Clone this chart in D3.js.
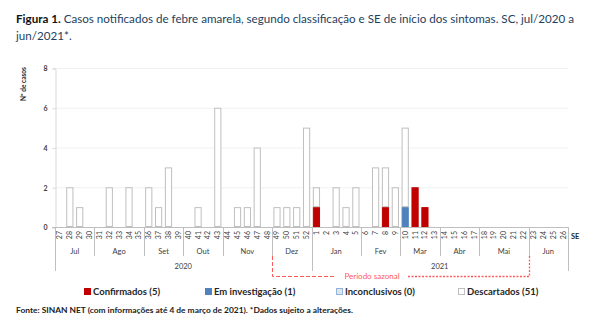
<!DOCTYPE html>
<html><head><meta charset="utf-8">
<script src="https://cdn.jsdelivr.net/npm/d3@7"></script>
<style>body{margin:0;background:#fff}svg{display:block;font-family:Lato,"Open Sans",sans-serif}</style>
</head><body><svg id="c" width="593" height="326"></svg>
<script>
const weeks = ["27","28","29","30","31","32","33","34","35","36","37","38","39","40","41","42","43","44","45","46","47","48","49","50","51","52","1","2","3","4","5","6","7","8","9","10","11","12","13","14","15","16","17","18","19","20","21","22","23","24","25","26"];
const confirmados = [0,0,0,0,0,0,0,0,0,0,0,0,0,0,0,0,0,0,0,0,0,0,0,0,0,0,1,0,0,0,0,0,0,1,0,0,2,1,0,0,0,0,0,0,0,0,0,0,0,0,0,0];
const investigacao = [0,0,0,0,0,0,0,0,0,0,0,0,0,0,0,0,0,0,0,0,0,0,0,0,0,0,0,0,0,0,0,0,0,0,0,1,0,0,0,0,0,0,0,0,0,0,0,0,0,0,0,0];
const inconclusivos = [0,0,0,0,0,0,0,0,0,0,0,0,0,0,0,0,0,0,0,0,0,0,0,0,0,0,0,0,0,0,0,0,0,0,0,0,0,0,0,0,0,0,0,0,0,0,0,0,0,0,0,0];
const descartados = [0,2,1,0,0,2,0,2,0,2,1,3,0,0,1,0,6,0,1,1,4,0,1,1,1,5,1,0,2,1,2,0,3,2,2,4,0,0,0,0,0,0,0,0,0,0,0,0,0,0,0,0];
const months = [["Jul","27","30"],["Ago","31","35"],["Set","36","39"],["Out","40","43"],["Nov","44","48"],["Dez","49","52"],["Jan","1","5"],["Fev","6","9"],["Mar","10","13"],["Abr","14","17"],["Mai","18","22"],["Jun","23","26"]];
const years = [["2020","27","52"],["2021","1","26"]];
const yTicks = [0,2,4,6,8];
const seriesNames = ["Confirmados (5)","Em investigação (1)","Inconclusivos (0)","Descartados (51)"];
const seriesColors = ["#C00000","#4F81BD","#DCE6F2","#FFFFFF"];
const seriesStroke = ["#C00000","#4F81BD","#95B3D7","#BFBFBF"];

(function(){
const svg = d3.select("#c");
const L=55, R=568, T=68, B=227;
const x = d3.scaleBand().domain(weeks).range([L,R]).paddingInner(0.27).paddingOuter(0.14);
const y = d3.scaleLinear().domain([0,8]).range([B,T]);
const cw = (R-L)/weeks.length;
const bx0 = w => L + weeks.indexOf(w)*cw;

function fitText(sel, w){ const n=sel.node(); const l=n.getComputedTextLength(); if(l>0) sel.attr("textLength",w).attr("lengthAdjust","spacingAndGlyphs"); return l; }

// title
const t = svg.append("text").attr("x",16).attr("y",23).attr("font-size",12).attr("fill","#243F60");
t.append("tspan").attr("font-weight","bold").attr("fill","#111").text("Figura 1.");
t.append("tspan").text(" Casos notificados de febre amarela, segundo classificação e SE de início dos sintomas. SC, jul/2020 a");
const t2 = svg.append("text").attr("x",16).attr("y",40).attr("font-size",12).attr("fill","#243F60").text("jun/2021*.");
const l1 = t.node().getComputedTextLength();
const l2 = t2.node().getComputedTextLength();
const r = 558/l1;
fitText(t, 558); fitText(t2, l2*r);

// gridlines
svg.append("g").selectAll("line").data(yTicks.filter(d=>d>0)).join("line")
  .attr("x1",L).attr("x2",R).attr("y1",d=>y(d)+0.5).attr("y2",d=>y(d)+0.5)
  .attr("stroke","#F0F0F0").attr("stroke-width",1);

// y axis
const ya = svg.append("g").attr("transform",`translate(${L+0.5},0.5)`)
  .call(d3.axisLeft(y).tickValues(yTicks).tickSize(3).tickPadding(5));
ya.select(".domain").attr("stroke","#D9D9D9");
ya.selectAll(".tick line").attr("stroke","#D9D9D9");
ya.selectAll("text").attr("font-size",7).attr("font-weight","bold").attr("fill","#404040").attr("font-family","Lato");
svg.append("text").attr("transform","translate(26,84) rotate(-90)").attr("text-anchor","middle")
  .attr("font-size",6.5).attr("font-weight","bold").attr("fill","#262626").text("Nº de casos");

// stacked bars
const rows = weeks.map((w,i)=>({w, c:confirmados[i], e:investigacao[i], n:inconclusivos[i], d:descartados[i]}));
const stack = d3.stack().keys(["c","e","n","d"])(rows);
stack.forEach((layer,k)=>{
  svg.append("g").selectAll("rect").data(layer.filter(s=>s[1]>s[0])).join("rect")
    .attr("x",s=>x(s.data.w)+0.5).attr("width",x.bandwidth()-1)
    .attr("y",s=>y(s[1])+0.5).attr("height",s=>y(s[0])-y(s[1])-1)
    .attr("fill",seriesColors[k]).attr("stroke",seriesStroke[k]).attr("stroke-width",1);
});

// x axis line
svg.append("line").attr("x1",52).attr("x2",R).attr("y1",B+0.5).attr("y2",B+0.5).attr("stroke","#BFBFBF");

// week labels
svg.append("g").selectAll("text").data(weeks).join("text")
  .attr("transform",d=>`translate(${x(d)+x.bandwidth()/2+2.5},231) rotate(-90)`)
  .attr("text-anchor","end").attr("font-size",7).attr("fill","#404040").text(d=>d);
svg.append("text").attr("x",571).attr("y",239).attr("font-size",7.5).attr("font-weight","bold").attr("fill","#262626").text("SE");

// month dividers & labels
const monthEdges = months.map(m=>bx0(m[1]));
monthEdges.push(R);
svg.append("g").selectAll("line").data(monthEdges).join("line")
  .attr("x1",d=>Math.round(d)+0.5).attr("x2",d=>Math.round(d)+0.5).attr("y1",B).attr("y2",256)
  .attr("stroke","#BFBFBF");
svg.append("g").selectAll("text").data(months).join("text")
  .attr("x",m=>(bx0(m[1])+bx0(m[2])+cw)/2).attr("y",254).attr("text-anchor","middle")
  .attr("font-size",7.5).attr("fill","#404040").text(m=>m[0]);
const yearEdges = [bx0("27"), bx0("1"), R];
svg.append("g").selectAll("line").data(yearEdges).join("line")
  .attr("x1",d=>Math.round(d)+0.5).attr("x2",d=>Math.round(d)+0.5).attr("y1",B).attr("y2",271)
  .attr("stroke","#BFBFBF");
svg.append("g").selectAll("text").data(years).join("text")
  .attr("x",m=>(bx0(m[1])+bx0(m[2])+cw)/2).attr("y",269).attr("text-anchor","middle")
  .attr("font-size",7.5).attr("fill","#404040").text(m=>m[0]);

// Período sazonal
const px1 = Math.round(bx0("49"))+0.5, px2 = Math.round(bx0("23"))+0.5;
const red="#FF5B5B";
svg.append("path").attr("d",`M${px1},256 V276.5 H335`).attr("fill","none").attr("stroke",red).attr("stroke-dasharray","4,2").attr("stroke-width",1);
svg.append("path").attr("d",`M${px2},256 V276.5 H408`).attr("fill","none").attr("stroke",red).attr("stroke-dasharray","2,1.5").attr("stroke-width",1.3);
svg.append("text").attr("x",372).attr("y",279).attr("text-anchor","middle").attr("font-size",8).attr("fill",red).text("Período sazonal");

// legend
const lx = [84,205,336,458];
const lg = svg.append("g").selectAll("g").data(seriesNames).join("g")
  .attr("transform",(d,i)=>`translate(${lx[i]},288)`);
lg.append("rect").attr("x",0.5).attr("y",0.5).attr("width",6).attr("height",6)
  .attr("fill",(d,i)=>seriesColors[i]).attr("stroke",(d,i)=>seriesStroke[i]);
lg.append("text").attr("x",9).attr("y",7).attr("font-size",9.5).attr("font-weight","bold").attr("fill","#262626").text(d=>d);

// footer
const f = svg.append("text").attr("x",16).attr("y",313).attr("font-size",7.5).attr("font-weight","bold").attr("fill","#1a1a1a")
  .text("Fonte: SINAN NET (com informações até 4 de março de 2021). *Dados sujeito a alterações.");
fitText(f, 337);
})();
</script></body></html>
